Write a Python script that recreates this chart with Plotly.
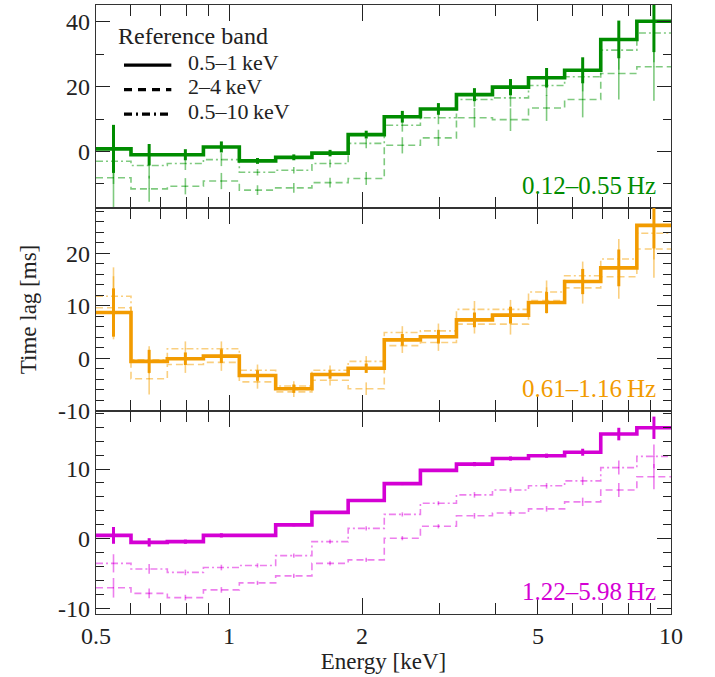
import plotly.graph_objects as go
from plotly.subplots import make_subplots
import numpy as np

# Energy bin edges [keV]
edges = [0.5, 0.6, 0.725, 0.875, 1.055, 1.275, 1.54, 1.86, 2.245, 2.71, 3.27, 3.945, 4.76, 5.745, 6.935, 8.37, 10.0]

# Panel 1: 0.12-0.55 Hz
g_solid = [0.8, -1.0, -1.0, 1.4, -2.9, -1.8, -0.5, 5.2, 10.7, 13.1, 17.5, 19.8, 22.7, 25.0, 34.5, 40.1]
g_solid_err = [7.4, 3.3, 1.7, 1.7, 0.9, 0.9, 1.0, 1.2, 1.8, 1.8, 2.0, 2.5, 3.0, 4.0, 5.8, 9.5]
g_dash = [-8.1, -11.5, -10.7, -9.1, -11.9, -11.2, -9.6, -8.3, 1.9, 4.2, 10.4, 9.8, 13.4, 16.0, 24.0, 26.1]
g_dash_err = [9.0, 4.0, 2.5, 2.5, 1.5, 1.5, 1.5, 2.0, 2.5, 2.5, 3.0, 3.5, 4.0, 5.5, 8.0, 10.5]
g_dd = [-3.0, -4.3, -3.7, -2.5, -6.4, -5.8, -3.7, 2.5, 8.1, 10.4, 16.0, 16.5, 20.3, 23.0, 31.2, 36.5]
g_dd_err = [7.0, 4.0, 2.0, 2.0, 1.0, 1.0, 1.2, 1.5, 2.0, 2.0, 2.2, 2.7, 3.2, 4.5, 6.0, 9.0]

# Panel 2: 0.61-1.16 Hz
o_solid = [8.7, -0.6, -0.1, 0.4, -3.3, -5.8, -3.1, -1.9, 3.5, 4.1, 7.3, 8.2, 10.6, 14.6, 17.2, 25.3]
o_solid_err = [4.6, 2.2, 1.2, 1.3, 1.0, 0.8, 0.8, 0.9, 1.1, 1.3, 1.4, 1.6, 2.0, 2.4, 3.5, 4.4]
o_dash = [9.6, -3.9, -1.2, -0.8, -4.5, -6.4, -4.2, -5.8, 2.4, 3.0, 6.5, 6.5, 11.0, 13.4, 15.5, 20.8]
o_dash_err = [6.0, 3.0, 1.6, 1.6, 1.3, 1.0, 1.0, 1.2, 1.4, 1.6, 1.8, 2.0, 2.5, 3.0, 4.2, 5.5]
o_dd = [11.8, -0.3, 1.8, 1.8, -2.3, -5.3, -2.3, -0.6, 4.9, 5.2, 9.3, 9.3, 12.6, 15.7, 18.9, 23.8]
o_dd_err = [5.5, 2.6, 1.4, 1.4, 1.1, 0.9, 0.9, 1.0, 1.2, 1.4, 1.6, 1.8, 2.2, 2.7, 3.8, 5.0]

# Panel 3: 1.22-5.98 Hz
m_solid = [0.5, -0.5, -0.4, 0.5, 0.5, 2.0, 3.8, 5.5, 7.9, 9.8, 10.7, 11.5, 11.9, 12.4, 15.0, 15.9]
m_solid_err = [1.2, 0.6, 0.3, 0.3, 0.2, 0.2, 0.2, 0.2, 0.2, 0.2, 0.3, 0.3, 0.3, 0.5, 0.9, 1.6]
m_dash = [-7.0, -7.8, -8.4, -7.3, -6.3, -5.3, -3.5, -3.0, 0.1, 1.8, 3.3, 3.7, 4.3, 5.3, 7.0, 8.9]
m_dash_err = [1.4, 0.7, 0.4, 0.4, 0.3, 0.3, 0.3, 0.3, 0.3, 0.3, 0.4, 0.4, 0.4, 0.6, 1.0, 1.8]
m_dd = [-3.5, -4.3, -4.8, -4.1, -3.8, -2.4, -0.4, 1.5, 3.5, 5.1, 6.3, 7.0, 7.6, 8.3, 10.2, 11.8]
m_dd_err = [1.3, 0.7, 0.4, 0.4, 0.3, 0.3, 0.3, 0.3, 0.3, 0.3, 0.4, 0.4, 0.4, 0.6, 1.0, 1.7]

panel_labels = ["0.12\u20130.55\u2009Hz", "0.61\u20131.16\u2009Hz", "1.22\u20135.98\u2009Hz"]
legend_title = "Reference band"
band_labels = ["0.5\u20131\u2009keV", "2\u20134\u2009keV", "0.5\u201310\u2009keV"]
x_ticks = [0.5, 1, 2, 5, 10]
x_ticktext = ["0.5", "1", "2", "5", "10"]
x_minor = [0.6, 0.7, 0.8, 0.9, 3, 4, 6, 7, 8, 9]
y_ticks = [[0, 20, 40], [-10, 0, 10, 20], [-10, 0, 10]]
y_ticktext = [["0", "20", "40"], ["-10", "0", "10", "20"], ["-10", "0", "10"]]

colors = ["#008c00", "#f29b00", "#d400d4"]
light = ["rgba(0,150,0,0.5)", "rgba(245,160,0,0.5)", "rgba(220,0,220,0.5)"]

FONT = "Liberation Serif, Times New Roman, serif"
TXT = "#222"
centers = [float(np.sqrt(a * b)) for a, b in zip(edges[:-1], edges[1:])]

fig = make_subplots(rows=3, cols=1, shared_xaxes=True, vertical_spacing=0)

panels = [
    (g_solid, g_solid_err, g_dash, g_dash_err, g_dd, g_dd_err),
    (o_solid, o_solid_err, o_dash, o_dash_err, o_dd, o_dd_err),
    (m_solid, m_solid_err, m_dash, m_dash_err, m_dd, m_dd_err),
]
DASH = "7px,4px"
DASHDOT = "7px,3px,2px,3px"

for i, (s, se, d, de, dd, dde) in enumerate(panels):
    row = i + 1
    for vals, errs, dash in [(d, de, DASH), (dd, dde, DASHDOT)]:
        fig.add_trace(go.Scatter(x=edges, y=list(vals) + [vals[-1]], mode="lines",
                                 line=dict(shape="hv", color=light[i], width=1.6, dash=dash),
                                 showlegend=False, hoverinfo="skip"), row=row, col=1)
        fig.add_trace(go.Scatter(x=centers, y=vals, mode="markers",
                                 marker=dict(size=1, color=light[i]),
                                 error_y=dict(type="data", array=errs, color=light[i], thickness=1.6, width=0),
                                 showlegend=False, hoverinfo="skip"), row=row, col=1)
    fig.add_trace(go.Scatter(x=edges, y=list(s) + [s[-1]], mode="lines",
                             line=dict(shape="hv", color=colors[i], width=3.6),
                             showlegend=False, hoverinfo="skip"), row=row, col=1)
    fig.add_trace(go.Scatter(x=centers, y=s, mode="markers",
                             marker=dict(size=1, color=colors[i]),
                             error_y=dict(type="data", array=se, color=colors[i], thickness=3, width=0),
                             showlegend=False, hoverinfo="skip"), row=row, col=1)

yranges = [[-17.4, 45.1], [-10.05, 28.6], [-10.75, 18.3]]
yminor = [10, 2, 2]
for i in range(3):
    fig.update_yaxes(range=yranges[i], tickmode="array", tickvals=y_ticks[i], ticktext=y_ticktext[i],
                     ticks="inside", ticklen=14,
                     tickwidth=1.3, tickcolor="#222", showline=True, linecolor="#333", linewidth=1.2,
                     mirror="allticks", showgrid=False, zeroline=False,
                     tickfont=dict(family=FONT, size=24, color=TXT),
                     minor=dict(dtick=yminor[i], tick0=0, ticks="inside", ticklen=8, tickcolor="#222", tickwidth=1.2),
                     row=i + 1, col=1)
    fig.update_xaxes(type="log", range=[np.log10(0.5), 1], tickvals=x_ticks,
                     ticktext=x_ticktext, ticks="inside", ticklen=16,
                     tickwidth=1.3, tickcolor="#222", showline=True, linecolor="#333", linewidth=1.2,
                     mirror="allticks", showgrid=False, zeroline=False,
                     tickfont=dict(family=FONT, size=24, color=TXT),
                     minor=dict(tickvals=x_minor, ticks="inside",
                                ticklen=11, tickcolor="#222", tickwidth=1.2),
                     row=i + 1, col=1)
    fig.add_annotation(text=panel_labels[i], x=0.978, y=0.11, xref=f"x{'' if i == 0 else i + 1} domain",
                       yref=f"y{'' if i == 0 else i + 1} domain", xanchor="right", yanchor="middle",
                       showarrow=False, font=dict(family=FONT, size=25, color=colors[i]))

fig.update_xaxes(title=dict(text="Energy [keV]", font=dict(family=FONT, size=23, color=TXT), standoff=2),
                 row=3, col=1)
fig.update_yaxes(title=dict(text="Time lag [ms]", font=dict(family=FONT, size=23, color=TXT), standoff=15),
                 row=2, col=1)

# Legend (drawn inside the top panel)
fig.add_annotation(text=legend_title, x=0.034, y=0.9491, xref="paper", yref="paper",
                   xanchor="left", yanchor="middle", showarrow=False,
                   font=dict(family=FONT, size=24, color=TXT))
leg_y = [0.9064, 0.8662, 0.8259]
for lab, dash, yy in zip(band_labels, ["solid", "8px,6px", "8px,4px,2px,4px"], leg_y):
    fig.add_shape(type="line", xref="paper", yref="paper", x0=0.0487, x1=0.131, y0=yy - 0.005, y1=yy - 0.005,
                  line=dict(color="black", width=3.3, dash=dash))
    fig.add_annotation(text=lab, x=0.1565, y=yy, xref="paper", yref="paper",
                       xanchor="left", yanchor="middle", showarrow=False,
                       font=dict(family=FONT, size=22, color=TXT))

fig.update_layout(
    width=715, height=677,
    margin=dict(l=96, r=44, t=5, b=63),
    plot_bgcolor="white", paper_bgcolor="white",
    showlegend=False,
)

fig.write_html("out.html")
